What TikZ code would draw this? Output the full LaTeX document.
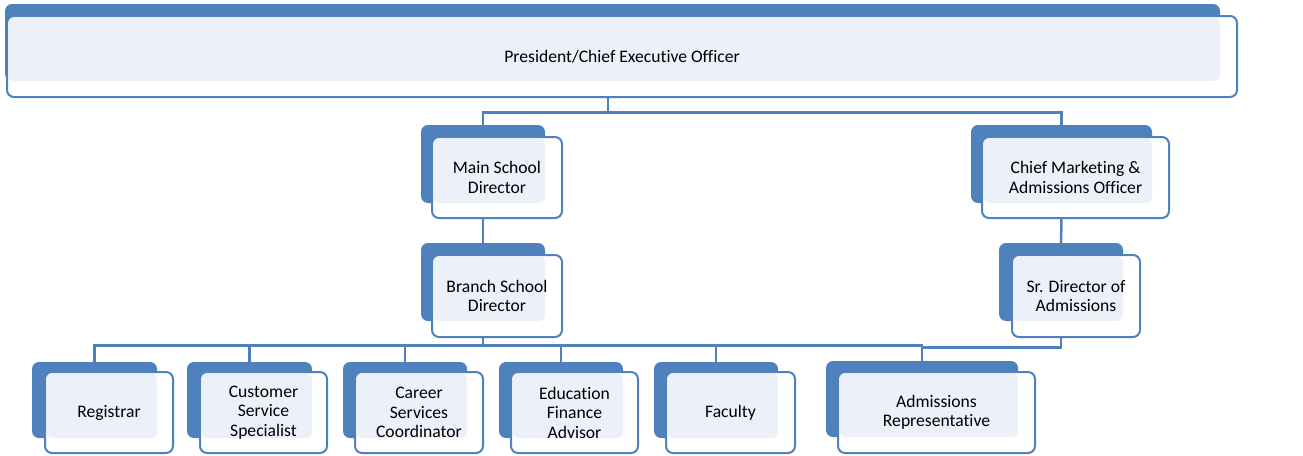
\documentclass[tikz,border=0pt]{standalone}
\usepackage{fontspec}
\setmainfont{Carlito}[Ligatures=CommonOff]
\usetikzlibrary{fit}
\definecolor{orgblue}{HTML}{4F81BD}
\definecolor{orglight}{HTML}{ECF0F8}
\tikzset{
  backbox/.style={fill=orgblue, rounded corners=7pt, inner sep=0pt, outer sep=0pt},
  frontbox/.style={draw=orgblue, line width=2pt, fill=white, rounded corners=7pt, inner sep=0pt, outer sep=0pt},
  lightbox/.style={fill=orglight, rounded corners=6pt},
  txt/.style={font=\fontsize{17.6}{19.5}\selectfont, align=center, inner sep=0pt, text=black},
  link/.style={draw=orgblue, line width=2.5pt}
}
\newcommand\orgbox[4]{%
  \node[backbox, fit={#2}] (#1B) {};
  \node[frontbox, fit={#3}] (#1) {};
  \fill[lightbox] ([shift={(1.5,1.5)}]#1.north west) rectangle (#1B.south east);
  \node[txt] (#1T) at (#1.center) {#4};
}
\begin{document}
\begin{tikzpicture}[x=1pt,y=-1pt]
\useasboundingbox (0,0) rectangle (1303,455);
% boxes
\orgbox{ceo}{(5,4) (1220,81)}{(7,16) (1237,97)}{President/Chief Executive Officer}
\orgbox{main}{(421,125) (545,203)}{(432,137) (562,218)}{Main School\\Director}
\orgbox{branch}{(421,243) (545,321)}{(432,255) (562,337)}{Branch School\\Director}
\orgbox{cmo}{(971,125) (1152,203)}{(982,137) (1169,218)}{Chief Marketing \&\\Admissions Officer}
\orgbox{srdir}{(999,243) (1123,321)}{(1012,255) (1140,337)}{Sr. Director of\\Admissions}
\orgbox{reg}{(32,362) (157,438)}{(45,372) (173,453)}{Registrar}
\orgbox{css}{(187,362) (312,438)}{(200,372) (327,453)}{Customer\\Service\\Specialist}
\orgbox{csc}{(343,362) (467,438)}{(355,372) (483,453)}{Career\\Services\\Coordinator}
\orgbox{efa}{(499,362) (623,438)}{(511,372) (638,453)}{Education\\Finance\\Advisor}
\orgbox{fac}{(654,362) (778,438)}{(666,372) (795,453)}{Faculty}
\orgbox{adm}{(826,361) (1018,437)}{(838,372) (1035,453)}{Admissions\\Representative}
% connectors
\coordinate (ceoJ) at (608,112.5);
\draw[link] (ceo.south -| ceoJ) -- (ceoJ);
\draw[link] (mainB.north) -- (mainB.north |- ceoJ) -- (cmoB.north |- ceoJ) -- (cmoB.north);
\draw[link] (main.south -| mainB.north) -- (branchB.north);
\draw[link] (cmo.south -| cmoB.north) -- (srdirB.north);
\coordinate (brJ) at (483,345.5);
\draw[link] (branch.south -| brJ) -- (brJ);
\draw[link] (regB.north) -- (regB.north |- brJ) -- (admB.north |- brJ) -- (admB.north);
\foreach \n in {css,csc,efa,fac} \draw[link] (\n B.north) -- (\n B.north |- brJ);
\draw[link] (srdir.south -| srdirB.north) -- ++(0,10.5) coordinate (srJ) -- (srJ -| admB.north) -- (admB.north);
\end{tikzpicture}
\end{document}
